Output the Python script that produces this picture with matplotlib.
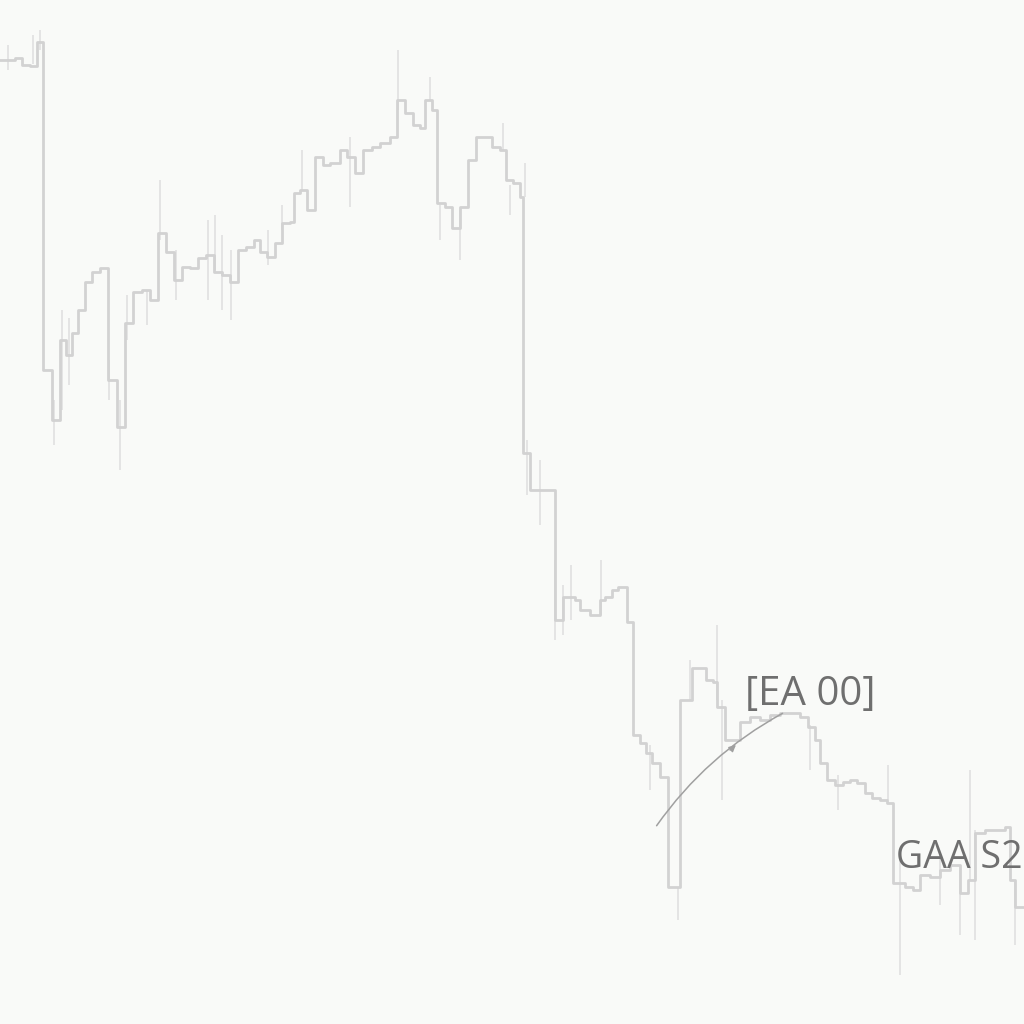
import matplotlib.pyplot as plt

# step times and closing levels
t = [0, 15, 22, 30, 37, 43, 52, 60, 66, 72, 78, 85, 92, 100, 108,
     117, 125, 133, 142, 150, 158, 166, 174, 182, 190, 198, 206, 214, 222, 230,
     238, 246, 254, 260, 267, 275, 282, 290, 294, 300, 307, 315, 323, 330, 340,
     347, 355, 363, 372, 380, 390, 397, 405, 413, 420, 425, 432, 437, 445, 452,
     460, 468, 476, 485, 492, 500, 506, 513, 520, 523, 530, 540, 555, 563, 575,
     580, 590, 600, 605, 612, 618, 627, 633, 640, 646, 652, 660, 668, 680, 692,
     700, 706, 713, 717, 725, 732, 740, 750, 760, 770, 780, 790, 800, 808, 815,
     820, 827, 835, 843, 850, 857, 865, 872, 880, 887, 893, 905, 913, 920, 930,
     940, 950, 960, 968, 975, 985, 995, 1005, 1010, 1015]
level = [964, 966, 959, 958, 982, 654, 604, 684, 669, 691, 714, 742, 752, 756, 644,
         597, 701, 732, 734, 724, 791, 772, 744, 757, 756, 766, 769, 752, 749, 742,
         774, 777, 784, 772, 767, 781, 801, 802, 831, 834, 814, 867, 859, 861, 874,
         867, 851, 874, 877, 881, 887, 924, 911, 899, 896, 924, 914, 821, 817, 796,
         817, 864, 887, 887, 877, 874, 844, 841, 827, 571, 534, 534, 404, 427, 424,
         414, 409, 424, 427, 434, 437, 402, 289, 281, 271, 261, 247, 137, 324, 356,
         356, 344, 342, 317, 284, 284, 302, 307, 304, 309, 311, 311, 307, 297, 284,
         261, 244, 239, 242, 244, 241, 231, 226, 224, 221, 141, 137, 134, 149, 147,
         154, 159, 131, 144, 191, 194, 194, 197, 144, 117]
t_end = 1024

# thin high/low wicks
wick_t = [8, 33, 40, 54, 62, 69, 109, 120, 127, 147, 160, 176, 208, 215, 222,
          231, 268, 282, 302, 350, 398, 430, 440, 460, 503, 510, 525, 527, 540,
          555, 563, 571, 601, 650, 678, 690, 717, 722, 810, 838, 888, 900, 940,
          960, 970, 975, 1015]
wick_hi = [979, 989, 994, 624, 714, 706, 664, 624, 729, 734, 844, 774, 804, 809, 789,
           774, 794, 819, 874, 887, 974, 947, 819, 814, 901, 839, 861, 584, 564,
           464, 439, 459, 464, 279, 137, 364, 399, 324, 299, 249, 259, 164, 169,
           154, 254, 194, 144]
wick_lo = [954, 960, 974, 579, 614, 639, 624, 554, 684, 699, 784, 724, 724, 754, 714,
           704, 759, 794, 834, 817, 914, 924, 784, 764, 874, 809, 827, 529, 499,
           384, 389, 404, 409, 234, 104, 324, 324, 224, 254, 214, 224, 49, 119,
           89, 144, 84, 79]

fig = plt.figure(figsize=(10.24, 10.24), dpi=100, facecolor="#f9faf8")
ax = fig.add_axes([0, 0, 1, 1])
ax.set_facecolor("#f9faf8")

ax.vlines(wick_t, wick_lo, wick_hi, color="#e2e2e2", linewidth=1.3)
ax.step(t + [t_end], level + [level[-1]], where="post", color="#d2d2d2", linewidth=2.0)

# labels and the curved pointer
ax.text(745, 329, "[EA 00]", fontsize=29, color="#6f6f6f", family="Open Sans",
        va="center", ha="left")
ax.text(1022, 166, "GAA S2", fontsize=27, color="#6f6f6f", family="Open Sans",
        va="center", ha="right")
ax.annotate("", xy=(785, 312), xytext=(655, 196),
            arrowprops=dict(arrowstyle="-", color="#a0a0a0", lw=1.1,
                            connectionstyle="arc3,rad=-0.12"))
ax.annotate("", xy=(738, 281), xytext=(728, 272),
            arrowprops=dict(arrowstyle="-|>", color="#a0a0a0", lw=1.0,
                            mutation_scale=10))

ax.set_xlim(0, 1024)
ax.set_ylim(0, 1024)
ax.axis("off")

fig.savefig("out.png", dpi=100, facecolor=fig.get_facecolor())
